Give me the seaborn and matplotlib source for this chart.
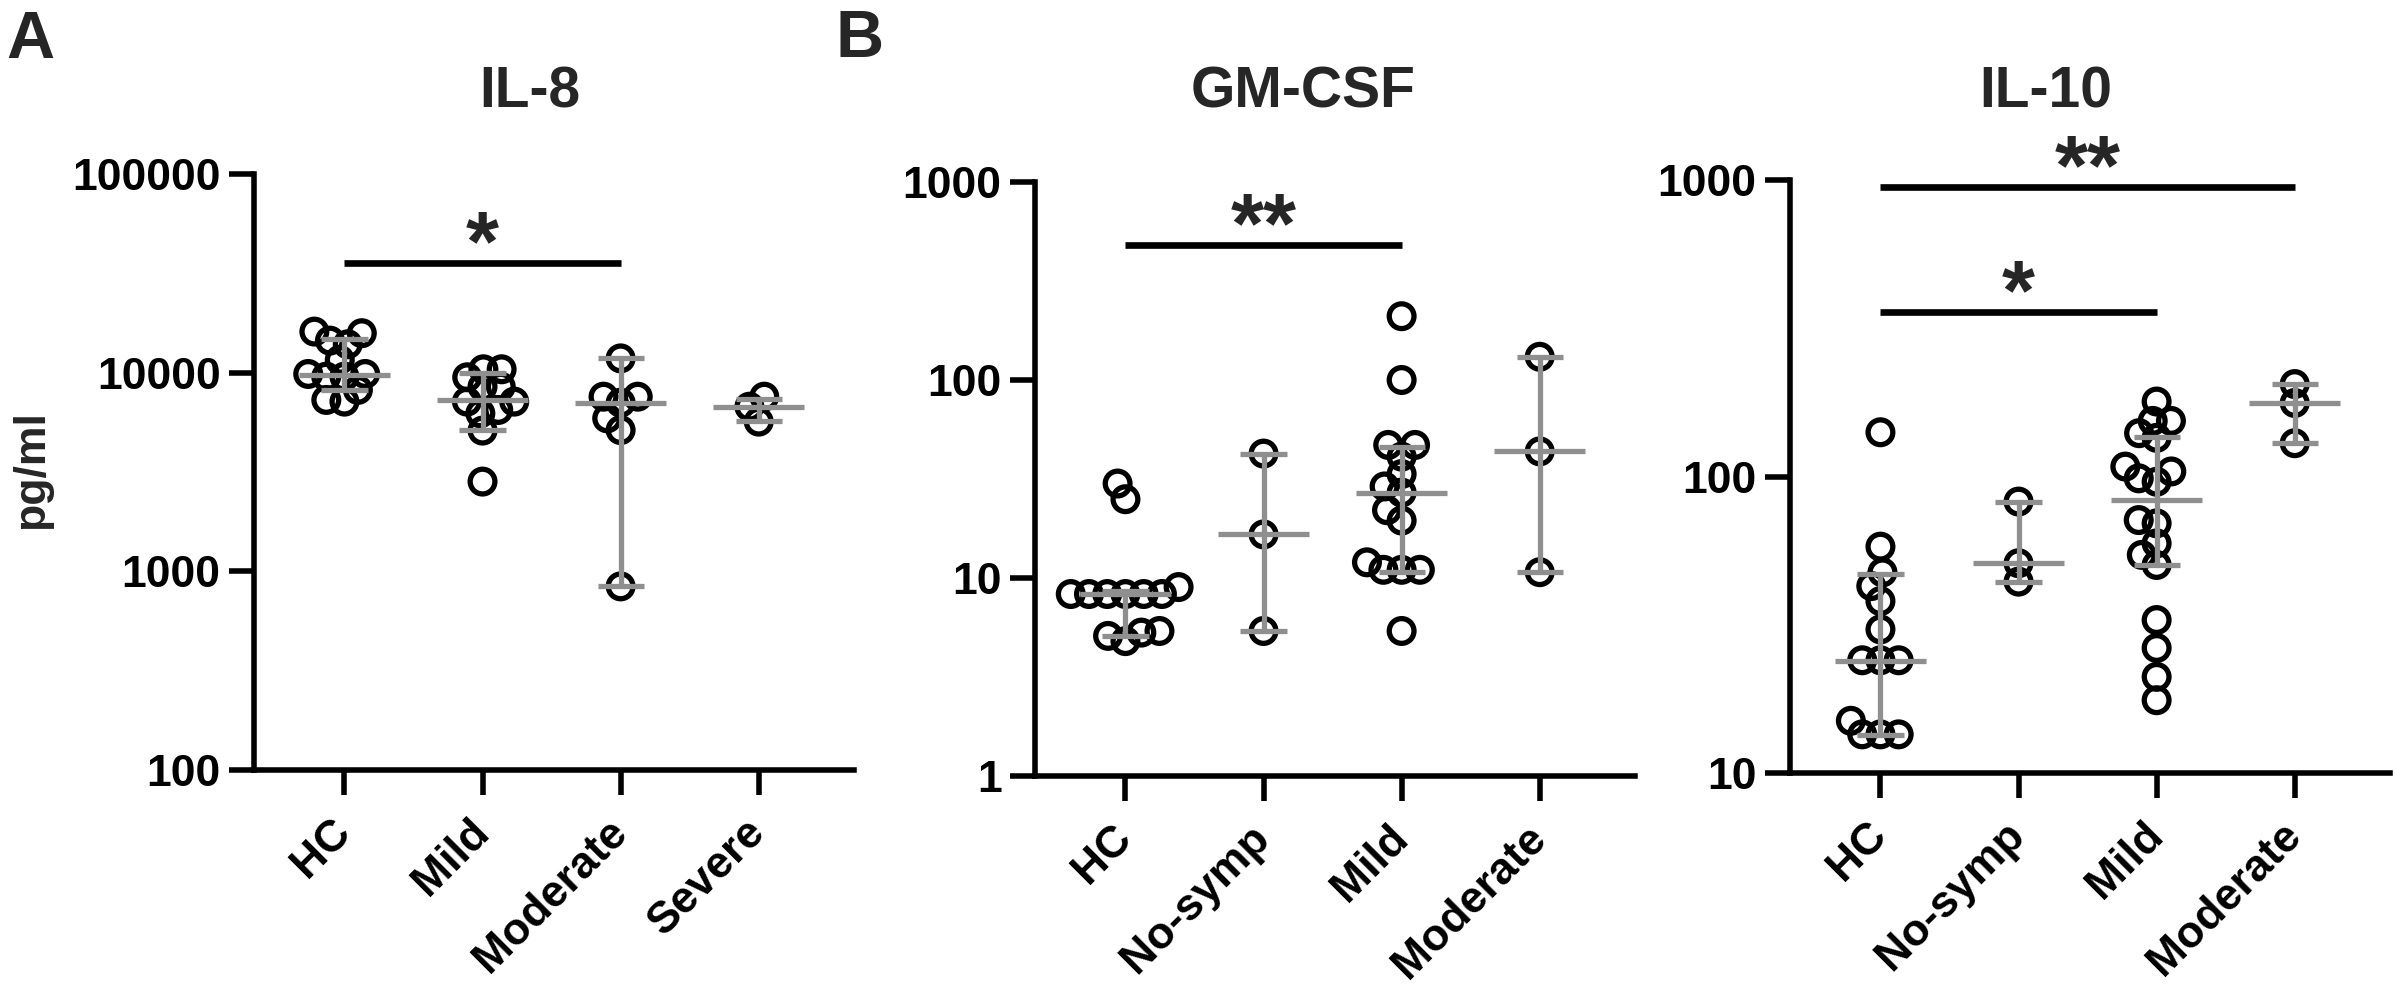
import numpy as np
import pandas as pd
import matplotlib
matplotlib.use('Agg')
import matplotlib.pyplot as plt
import seaborn as sns

sns.set_theme(style='white')
plt.rcParams['font.family'] = ['Liberation Sans', 'DejaVu Sans']
plt.rcParams['font.weight'] = 'bold'

# ---- IL-8 ----
il8_cats = ['HC', 'Mild', 'Moderate', 'Severe']
il8_hc = [16100, 15800, 14500, 13900, 11600, 9850, 9850, 9550, 9550, 8190, 7290, 7150]
il8_mild = [10400, 10400, 9480, 8500, 8500, 7150, 7150, 6490, 6240, 5110, 2830]
il8_moderate = [11800, 7570, 7570, 7060, 5890, 5140, 840]
il8_severe = [7570, 6740, 5670]
il8_med = [9740, 7290, 7060, 6740]
il8_lo = [8200, 5140, 840, 5710]
il8_hi = [14700, 10000, 11800, 7350]

# ---- GM-CSF ----
gm_cats = ['HC', 'No-symp', 'Mild', 'Moderate']
gm_hc = [30, 25, 9.0, 8.3, 8.3, 8.3, 8.3, 8.3, 8.3, 5.4, 5.3, 5.1, 4.8]
gm_nosymp = [42.5, 16.6, 5.4]
gm_mild = [210, 100, 47, 47, 41, 33.5, 29, 27, 22, 19.5, 12, 11, 11, 11, 5.4]
gm_moderate = [131, 43.6, 10.7]
gm_med = [8.3, 16.6, 27, 43.6]
gm_lo = [5.1, 5.4, 10.7, 10.7]
gm_hi = [8.6, 42.5, 46, 131]

# ---- IL-10 ----
il10_cats = ['HC', 'No-symp', 'Mild', 'Moderate']
il10_hc = [141, 58, 47.5, 42.7, 38, 30.5, 24, 24, 24, 15, 13.5, 13.5, 13.5]
il10_nosymp = [82.3, 51, 44.2]
il10_mild = [179, 154, 154, 140, 135, 108, 104, 98.6, 96, 71.3, 69.5, 59.5,
             54.4, 50.3, 32.8, 26.4, 21.1, 17.6]
il10_moderate = [205, 177, 129.5]
il10_med = [23.8, 51, 83.5, 177]
il10_lo = [13.4, 44.2, 50.3, 129.5]
il10_hi = [47, 82, 135.6, 205]

GREY = '#8f8f8f'
W, H = 2396, 986
fig = plt.figure(figsize=(W / 100, H / 100), dpi=100)


def add_axes_px(left, top, right, bottom):
    return fig.add_axes([left / W, 1 - bottom / H, (right - left) / W, (bottom - top) / H])


swarm_points = []


def draw_panel(ax, cats, groups, med, lo, hi, ylim, yticks, sigs):
    df = pd.DataFrame({
        'group': np.repeat(cats, [len(g) for g in groups]),
        'value': np.concatenate([np.asarray(g, float) for g in groups]),
    })
    ax.set_yscale('log')
    n_before = len(ax.collections)
    sns.swarmplot(data=df, x='group', y='value', order=cats, size=12.5,
                  color='black', linewidth=0, zorder=2, ax=ax)
    swarm_points.extend(ax.collections[n_before:])

    xs = np.arange(len(cats))
    ax.hlines(med, xs - 0.33, xs + 0.33, color=GREY, lw=3.8, zorder=3)
    ax.hlines(lo, xs - 0.167, xs + 0.167, color=GREY, lw=3.8, zorder=3)
    ax.hlines(hi, xs - 0.167, xs + 0.167, color=GREY, lw=3.8, zorder=3)
    ax.vlines(xs, lo, hi, color=GREY, lw=3.8, zorder=3)

    for i, j, y, txt in sigs:
        ax.plot([i, j], [y, y], color='black', lw=4.8, solid_capstyle='butt',
                clip_on=False, zorder=4)
        ax.annotate(txt, xy=((i + j) / 2, y), xytext=(0, -5), textcoords='offset points',
                    ha='center', va='baseline', fontsize=61, fontweight='bold',
                    annotation_clip=False)

    ax.set_xlim(-0.655, 3.69)
    ax.set_ylim(*ylim)
    ax.yaxis.set_minor_locator(matplotlib.ticker.NullLocator())
    ax.set_yticks(yticks)
    ax.set_yticklabels([str(t) for t in yticks])
    ax.set_xticks(xs)
    ax.set_xticklabels(cats, rotation=45, ha='right', va='center', rotation_mode='anchor')
    ax.set_xlabel('')
    ax.set_ylabel('')
    for s in ['top', 'right']:
        ax.spines[s].set_visible(False)
    for s in ['left', 'bottom']:
        ax.spines[s].set_linewidth(4)
        ax.spines[s].set_color('black')
    ax.tick_params(axis='both', which='major', bottom=True, left=True, length=18,
                   width=4, color='black', direction='out', labelsize=32, pad=6)
    ax.tick_params(axis='x', pad=22)
    for lab in ax.get_xticklabels() + ax.get_yticklabels():
        lab.set_fontweight('bold')
        lab.set_color('black')


ax_a = add_axes_px(254, 174, 854, 770)
draw_panel(ax_a, il8_cats, [il8_hc, il8_mild, il8_moderate, il8_severe],
           il8_med, il8_lo, il8_hi, (100, 100000), [100, 1000, 10000, 100000],
           [(0, 2, 35600, '*')])

ax_b = add_axes_px(1035, 182, 1635, 776)
draw_panel(ax_b, gm_cats, [gm_hc, gm_nosymp, gm_mild, gm_moderate],
           gm_med, gm_lo, gm_hi, (1, 1000), [1, 10, 100, 1000],
           [(0, 2, 481, '**')])

ax_c = add_axes_px(1790, 180, 2390, 773)
draw_panel(ax_c, il10_cats, [il10_hc, il10_nosymp, il10_mild, il10_moderate],
           il10_med, il10_lo, il10_hi, (10, 1000), [10, 100, 1000],
           [(0, 3, 947, '**'), (0, 2, 359, '*')])

fig.text(32 / W, 1 - 470 / H, 'pg/ml', rotation=90, ha='center', va='center',
         fontsize=32, fontweight='bold')

for x, title in [(530, 'IL-8'), (1303, 'GM-CSF'), (2046, 'IL-10')]:
    fig.text(x / W, 1 - 107 / H, title, ha='center', va='baseline',
             fontsize=41, fontweight='bold')

fig.text(6 / W, 1 - 58 / H, 'A', ha='left', va='baseline', fontsize=48, fontweight='bold')
fig.text(836 / W, 1 - 57 / H, 'B', ha='left', va='baseline', fontsize=48, fontweight='bold')

# lay out the swarms with a small collision size, then freeze and enlarge the markers
fig.canvas.draw()
for pts in swarm_points:
    pts.__dict__.pop('draw', None)
    pts.set_sizes([17.8 ** 2])
    pts.set_facecolor('none')
    pts.set_edgecolor('black')
    pts.set_linewidth(3.8)

fig.savefig('out.png', dpi=100, facecolor='white')
